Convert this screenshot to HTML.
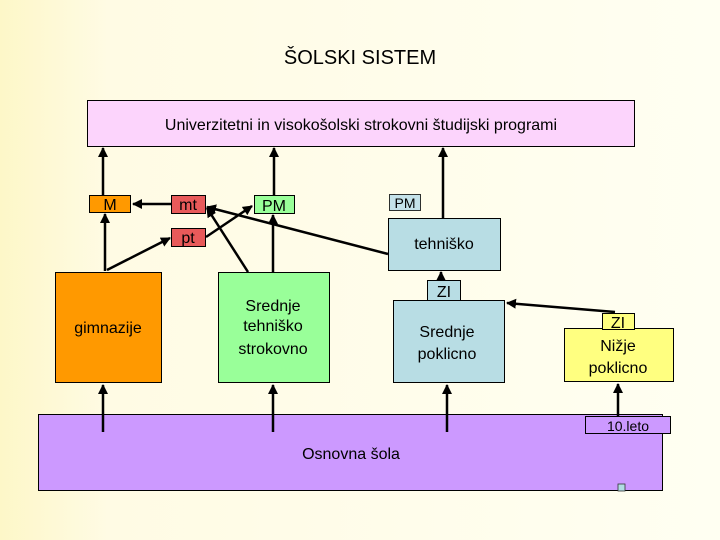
<!DOCTYPE html>
<html><head><meta charset="utf-8"><style>
html,body{margin:0;padding:0;width:720px;height:540px;overflow:hidden}
svg{display:block}
text{font-family:"Liberation Sans",sans-serif;fill:#000}
</style></head><body>
<svg width="720" height="540" xmlns="http://www.w3.org/2000/svg">
<defs>
<linearGradient id="bg" x1="0" x2="1" y1="0" y2="0">
<stop offset="0" stop-color="#fdf7c8"/><stop offset="0.15" stop-color="#fffbe4"/><stop offset="1" stop-color="#fffff2"/>
</linearGradient>
<marker id="a" viewBox="0 0 10 10" refX="9" refY="5" markerWidth="4" markerHeight="4" orient="auto"><path d="M0,0L10,5L0,10z" fill="#000"/></marker>
</defs>
<rect width="720" height="540" fill="url(#bg)"/>
<text x="360" y="64" font-size="20" text-anchor="middle">ŠOLSKI SISTEM</text>
<rect x="87.5" y="100.5" width="547" height="46" fill="#fcd4fc" stroke="#000"/>
<text x="361" y="130" font-size="16" text-anchor="middle">Univerzitetni in visokošolski strokovni študijski programi</text>

<rect x="38.5" y="414.5" width="624" height="76" fill="#cc99ff" stroke="#000"/>
<text x="351" y="459" font-size="16" text-anchor="middle">Osnovna šola</text>
<rect x="585.5" y="416.5" width="85" height="17" fill="#cc99ff" stroke="#000"/>
<text x="628" y="431" font-size="14" text-anchor="middle" fill="#222">10.leto</text>
<rect x="618" y="484" width="7" height="7" fill="#b0dce4" stroke="#333" stroke-width="0.8"/>

<rect x="55.5" y="272.5" width="106" height="110" fill="#ff9900" stroke="#000"/>
<text x="108" y="333" font-size="16" text-anchor="middle" fill="#331100">gimnazije</text>
<rect x="218.5" y="272.5" width="111" height="110" fill="#99ff99" stroke="#000"/>
<text x="273" y="311" font-size="16" text-anchor="middle">Srednje</text>
<text x="273" y="331" font-size="16" text-anchor="middle">tehniško</text>
<text x="273" y="354" font-size="16" text-anchor="middle">strokovno</text>
<rect x="393.5" y="300.5" width="111" height="82" fill="#b8dde4" stroke="#000"/>
<text x="447" y="337" font-size="16" text-anchor="middle">Srednje</text>
<text x="447" y="359" font-size="16" text-anchor="middle">poklicno</text>
<rect x="427.5" y="280.5" width="33" height="20" fill="#b8dde4" stroke="#000"/>
<text x="444" y="297" font-size="16" text-anchor="middle">ZI</text>
<rect x="564.5" y="328.5" width="109" height="53" fill="#ffff80" stroke="#000"/>
<text x="618" y="351" font-size="16" text-anchor="middle">Nižje</text>
<text x="618" y="373" font-size="16" text-anchor="middle">poklicno</text>
<rect x="602.5" y="313.5" width="32" height="16" fill="#ffff80" stroke="#000"/>
<text x="618" y="328" font-size="16" text-anchor="middle">ZI</text>

<rect x="388.5" y="218.5" width="112" height="52" fill="#b8dde4" stroke="#000"/>
<text x="444" y="249" font-size="16" text-anchor="middle">tehniško</text>
<rect x="389.5" y="194.5" width="31" height="16" fill="#c4e2ea" stroke="#000" stroke-width="0.8"/>
<text x="405" y="208" font-size="14" text-anchor="middle" fill="#333">PM</text>

<rect x="89.5" y="195.5" width="41" height="17" fill="#ff9900" stroke="#000"/>
<text x="110" y="210" font-size="16" text-anchor="middle">M</text>
<rect x="171.5" y="195.5" width="34" height="18" fill="#e85a5a" stroke="#000"/>
<text x="188" y="210" font-size="16" text-anchor="middle">mt</text>
<rect x="171.5" y="228.5" width="34" height="18" fill="#e85a5a" stroke="#000"/>
<text x="188" y="243" font-size="16" text-anchor="middle">pt</text>
<rect x="254.5" y="195.5" width="40" height="18" fill="#99ff99" stroke="#000"/>
<text x="274" y="211" font-size="16" text-anchor="middle">PM</text>

<g stroke="#000" stroke-width="2.5" fill="none" marker-end="url(#a)">
<line x1="103" y1="195" x2="103" y2="148"/>
<line x1="274" y1="195" x2="274" y2="148"/>
<line x1="443" y1="218" x2="443" y2="148"/>
<line x1="105" y1="271" x2="105" y2="214"/>
<line x1="107" y1="270" x2="170" y2="238"/>
<line x1="171" y1="204" x2="133" y2="204"/>
<line x1="206" y1="237" x2="252" y2="206"/>
<line x1="248" y1="272" x2="207" y2="208"/>
<line x1="273" y1="272" x2="273" y2="215"/>
<line x1="388" y1="254" x2="207" y2="207"/>
<line x1="441" y1="280" x2="441" y2="272"/>
<line x1="615" y1="312" x2="507" y2="303"/>
<line x1="103" y1="432" x2="103" y2="385"/>
<line x1="273" y1="432" x2="273" y2="385"/>
<line x1="447" y1="432" x2="447" y2="385"/>
<line x1="618" y1="416" x2="618" y2="384"/>
</g>
</svg>
</body></html>
